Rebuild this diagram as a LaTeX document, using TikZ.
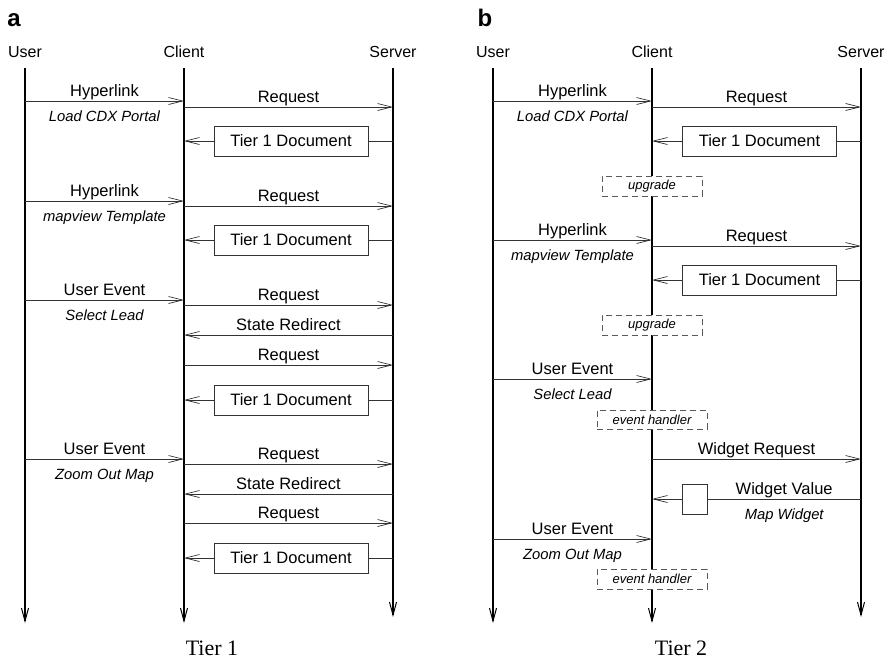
\documentclass[tikz,border=0pt]{standalone}
\usepackage{fontspec}
\setmainfont{Liberation Sans}
\newfontfamily\capserif{Liberation Serif}
\usetikzlibrary{arrows.meta}
\begin{document}
\begin{tikzpicture}[x=1pt,y=-1pt,
  life/.style={line width=1.3pt,draw=black,-{Straight Barb[length=13pt,width=7pt,line width=1pt]}},
  msg/.style={line width=0.7pt,draw=black!80,-{Straight Barb[length=14pt,width=7pt,line width=0.7pt]}},
  plain/.style={line width=0.7pt,draw=black!80},
  hdr/.style={font=\fontsize{16}{18}\selectfont,anchor=base,inner sep=0pt},
  lab/.style={font=\fontsize{16.5}{19}\selectfont,anchor=base,yshift=5pt,inner sep=0pt},
  sub/.style={font=\fontsize{14.8}{17}\selectfont\itshape,anchor=base,yshift=-20pt,inner sep=0pt},
  doc/.style={draw=black!80,line width=0.7pt,fill=white,minimum width=154pt,minimum height=30pt,inner sep=0pt,font=\fontsize{16.5}{19}\selectfont},
  wbox/.style={draw=black!80,line width=0.7pt,fill=white,minimum width=25pt,minimum height=30pt,inner sep=0pt},
  dbox/.style={draw=black!65,dash pattern=on 6pt off 4pt,fill=white,line width=0.9pt,minimum height=20pt,inner sep=0pt,font=\fontsize{13}{15}\selectfont\itshape},
  panel/.style={font=\fontsize{24}{28}\selectfont\bfseries,anchor=base,inner sep=0pt},
  tier/.style={font=\capserif\fontsize{22}{26}\selectfont,anchor=base,inner sep=0pt}]
\useasboundingbox (0,0) rectangle (890,659);

% panel labels
\node[panel] (pa) at (14,26) {a};
\node[panel] (pb) at (485,26) {b};
\node[tier] (ta) at (212,655) {Tier 1};
\node[tier] (tb) at (681,655) {Tier 2};

% lifelines
\foreach \n/\x/\t/\e in {ua/25/User/623, ca/184/Client/623, sa/393/Server/617,
                         ub/493/User/623, cb/652/Client/623, sb/861/Server/617}{
  \node[hdr] (\n) at (\x,57) {\t};
  \coordinate (\n t) at (\x,68);
  \coordinate (\n b) at (\x,\e);
  \draw[life] (\n t) -- (\n b);
}

% messages with two labels
\foreach \n/\xa/\xb/\y/\top/\bot in {
   a1/25/184/101/Hyperlink/Load CDX Portal,
   a4/25/184/201/Hyperlink/mapview Template,
   a7/25/184/300/User Event/Select Lead,
   a12/25/184/459/User Event/Zoom Out Map,
   b1/493/652/101/Hyperlink/Load CDX Portal,
   b5/493/652/240/Hyperlink/mapview Template,
   b9/493/652/379/User Event/Select Lead,
   b13/493/652/539/User Event/Zoom Out Map}{
  \coordinate (\n s) at (\xa,\y);
  \coordinate (\n e) at (\xb,\y);
  \draw[msg] (\n s) -- node[lab] {\top} node[sub] {\bot} (\n e);
}

% messages with one label
\foreach \n/\xa/\xb/\y/\top in {
   a2/184/393/107/Request,
   a5/184/393/206/Request,
   a8/184/393/305/Request,
   a9/393/184/335/State Redirect,
   a10/184/393/365/Request,
   a13/184/393/464/Request,
   a14/393/184/494/State Redirect,
   a15/184/393/523/Request,
   b2/652/861/107/Request,
   b6/652/861/246/Request,
   b11/652/861/459/Widget Request}{
  \coordinate (\n s) at (\xa,\y);
  \coordinate (\n e) at (\xb,\y);
  \draw[msg] (\n s) -- node[lab] {\top} (\n e);
}

% document replies
\foreach \n/\xs/\xc/\xm/\y in {
   a3/393/184/291/141, a6/393/184/291/240, a11/393/184/291/400, a16/393/184/291/558,
   b3/861/652/759.5/141, b7/861/652/759.5/280}{
  \node[doc] (\n) at (\xm,\y) {Tier 1 Document};
  \coordinate (\n s) at (\xs,\y);
  \coordinate (\n c) at (\xc,\y);
  \draw[plain] (\n s) -- (\n.east);
  \draw[msg] (\n.west) -- (\n c);
}

% widget value
\node[wbox] (w12) at (694.5,499) {};
\coordinate (w12s) at (861,499);
\coordinate (w12c) at (652,499);
\draw[plain] (w12s) -- node[lab] {Widget Value} node[sub] {Map Widget} (w12.east);
\draw[msg] (w12.west) -- (w12c);

% dashed client boxes
\node[dbox,minimum width=100pt] (u1) at (652,186) {upgrade};
\node[dbox,minimum width=100pt] (u2) at (652,325) {upgrade};
\node[dbox,minimum width=110pt,minimum height=19pt] (h1) at (652,419.5) {event handler};
\node[dbox,minimum width=110pt] (h2) at (652,579) {event handler};
\end{tikzpicture}
\end{document}
